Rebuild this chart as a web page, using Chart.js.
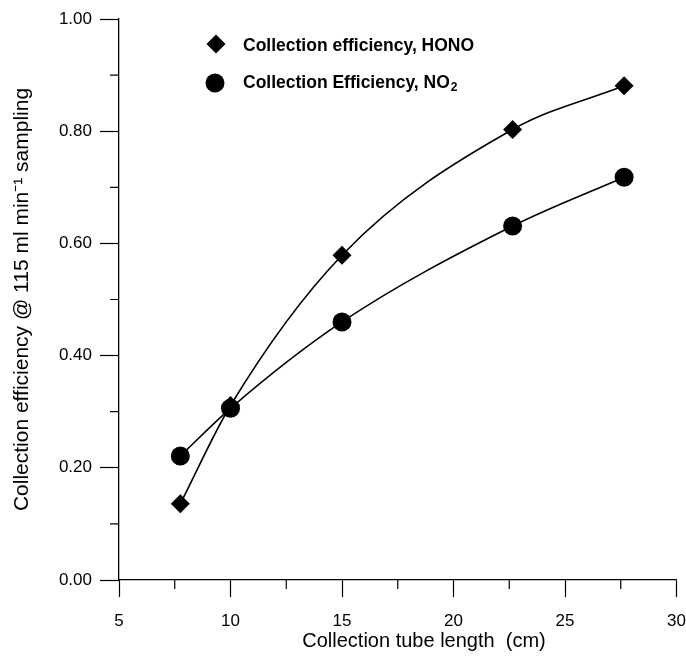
<!DOCTYPE html>
<html>
<head>
<meta charset="utf-8">
<script src="https://cdn.jsdelivr.net/npm/chart.js@4/dist/chart.umd.min.js"></script>
<style>
  html, body { margin: 0; padding: 0; background: #fff; }
</style>
</head>
<body>
<canvas id="chart" width="686" height="656"></canvas>
<script>
// values
const tubeLength = [7.75, 10, 15, 22.65, 27.65];
const honoEff = [0.136, 0.311, 0.579, 0.803, 0.881];
const no2Eff = [0.221, 0.306, 0.460, 0.631, 0.718];

const xTicks = [5, 10, 15, 20, 25, 30];
const xMinor = [7.5, 12.5, 17.5, 22.5, 27.5];
const yTicks = [0, 0.2, 0.4, 0.6, 0.8, 1.0];
const yMinor = [0.1, 0.3, 0.5, 0.7, 0.9];

const FONT = "'Liberation Sans', Arial, sans-serif";

const toPoints = (xs, ys) => xs.map((x, i) => ({ x: x, y: ys[i] }));

// minor ticks, x title and the in-plot legend
const extras = {
  id: 'extras',
  afterDraw(chart) {
    const ctx = chart.ctx;
    const xs = chart.scales.x, ys = chart.scales.y;
    ctx.save();
    ctx.strokeStyle = '#000';
    ctx.lineWidth = 1.2;
    ctx.beginPath();
    xMinor.forEach(v => {
      const px = xs.getPixelForValue(v);
      ctx.moveTo(px, xs.top);
      ctx.lineTo(px, xs.top + 9);
    });
    yMinor.forEach(v => {
      const py = ys.getPixelForValue(v);
      ctx.moveTo(ys.right, py);
      ctx.lineTo(ys.right - 9, py);
    });
    ctx.stroke();

    // x axis title
    ctx.fillStyle = '#000';
    ctx.font = '20px ' + FONT;
    ctx.textAlign = 'center';
    ctx.textBaseline = 'middle';
    ctx.fillText('Collection tube length  (cm)', 424, 641);

    // legend
    const lx = 216, ty = 44, by = 83;
    ctx.beginPath();
    ctx.moveTo(lx, ty - 9.5);
    ctx.lineTo(lx + 9.5, ty);
    ctx.lineTo(lx, ty + 9.5);
    ctx.lineTo(lx - 9.5, ty);
    ctx.closePath();
    ctx.fill();
    ctx.beginPath();
    ctx.arc(lx - 1, by, 9.5, 0, Math.PI * 2);
    ctx.fill();

    ctx.font = 'bold 17.5px ' + FONT;
    ctx.textAlign = 'left';
    ctx.fillText(chart.data.datasets[0].label, 243, ty + 2);
    const t2 = 'Collection Efficiency, NO';
    ctx.fillText(t2, 243, by);
    const w2 = ctx.measureText(t2).width;
    ctx.font = 'bold 12px ' + FONT;
    ctx.fillText('2', 243 + w2 + 1, by + 5);
    ctx.restore();
  }
};

new Chart(document.getElementById('chart').getContext('2d'), {
  type: 'scatter',
  data: {
    datasets: [
      {
        label: 'Collection efficiency, HONO',
        data: toPoints(tubeLength, honoEff),
        showLine: true,
        cubicInterpolationMode: 'monotone',
        borderColor: '#000',
        borderWidth: 1.6,
        backgroundColor: '#000',
        pointStyle: 'rectRot',
        pointRadius: 9.5,
        pointBorderWidth: 0
      },
      {
        label: 'Collection Efficiency, NO2',
        data: toPoints(tubeLength, no2Eff),
        showLine: true,
        cubicInterpolationMode: 'monotone',
        borderColor: '#000',
        borderWidth: 1.6,
        backgroundColor: '#000',
        pointStyle: 'circle',
        pointRadius: 9.5,
        pointBorderWidth: 0
      }
    ]
  },
  options: {
    responsive: false,
    animation: false,
    layout: { padding: { top: 19, right: 8, left: 0, bottom: 0 } },
    plugins: {
      legend: { display: false },
      tooltip: { enabled: false }
    },
    scales: {
      x: {
        type: 'linear',
        min: 5,
        max: 30,
        afterBuildTicks: s => { s.ticks = xTicks.map(v => ({ value: v })); },
        afterFit: s => { s.height = 76; s.paddingRight = 0; s.paddingLeft = 0; },
        grid: { drawOnChartArea: false, tickLength: 17, tickColor: '#000', tickWidth: 1.2 },
        border: { color: '#000', width: 1.3 },
        ticks: { color: '#000', font: { family: FONT, size: 17 }, padding: 14, maxRotation: 0 }
      },
      y: {
        type: 'linear',
        min: 0,
        max: 1,
        afterBuildTicks: s => { s.ticks = yTicks.map(v => ({ value: v })); },
        afterFit: s => { s.width = 119; s.paddingTop = 0; s.paddingBottom = 0; },
        grid: { drawOnChartArea: false, tickLength: 19, tickColor: '#000', tickWidth: 1.2 },
        border: { color: '#000', width: 1.3 },
        ticks: { color: '#000', font: { family: FONT, size: 17 }, padding: 8, callback: v => v.toFixed(2) },
        title: {
          display: true,
          text: 'Collection efficiency @ 115 ml min\u207B\u00B9 sampling',
          color: '#000',
          font: { family: FONT, size: 21 },
          padding: { top: 10, bottom: 0 }
        }
      }
    }
  },
  plugins: [extras]
});
</script>
</body>
</html>
